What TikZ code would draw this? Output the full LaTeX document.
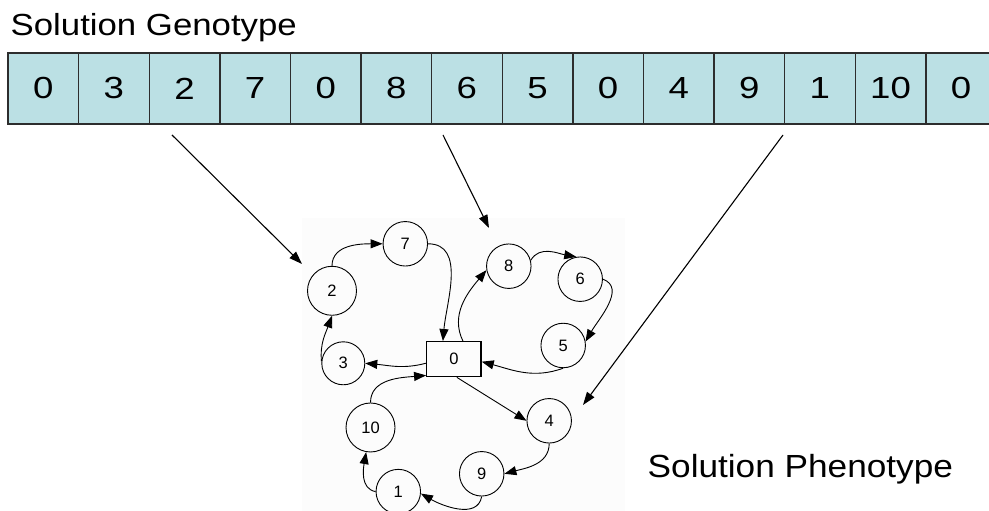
\documentclass[tikz,border=0pt]{standalone}
\usepackage{fontspec}
\setmainfont{Liberation Sans}
\usetikzlibrary{arrows.meta}
\definecolor{cellfill}{RGB}{187,224,228}
\definecolor{cellline}{RGB}{45,45,45}

\begin{document}
\begin{tikzpicture}[x=1pt,y=1pt,
  gene/.style={draw=cellline, line width=1.4pt, fill=cellfill,
    minimum width=70.6pt, minimum height=71pt, inner sep=0pt,
    font=\fontsize{30.5}{36}\selectfont\addfontfeatures{FakeStretch=1.2}},
  city/.style={circle, draw, line width=0.9pt, minimum size=44.5pt,
    inner sep=0pt, font=\fontsize{16.5}{19}\selectfont},
  depot/.style={rectangle, draw, line width=1.4pt, minimum width=54.3pt,
    minimum height=35pt, inner sep=0pt, font=\fontsize{16.5}{19}\selectfont},
  link/.style={line width=0.9pt, -{Triangle[length=12pt,width=9pt]}},
  mapto/.style={line width=1.1pt, -{Triangle[length=13pt,width=9pt]}},
  caption/.style={anchor=base west, inner sep=0pt}
]
\clip (0,0) rectangle (989,511);
\fill[white] (0,0) rectangle (989,511);
% light backdrop behind the route graph
\fill[black!1] (302,0) rectangle (625,293);

% genotype string
\node[caption, font=\fontsize{30.5}{36}\selectfont\addfontfeatures{FakeStretch=1.14}]
  (geno) at (10.5,475) {Solution Genotype};
\foreach \v [count=\i] in {0,3,2,7,0,8,6,5,0,4,9,1,10,0}
  \node[gene] (g\i) at ({8+70.6*(\i-0.5)},422.5) {\v};

% phenotype: routes leaving and returning to the depot
\node[depot] (n0) at (453.9,151.8) {0};
\node[city] (n7) at (405.3,267.2) {7};
\node[city, minimum size=49pt] (n2) at (332,220.2) {2};
\node[city, minimum size=43pt] (n3) at (343.3,147.7) {3};
\node[city] (n8) at (508.8,244.8) {8};
\node[city] (n6) at (580.2,231.8) {6};
\node[city] (n5) at (563.2,165.5) {5};
\node[city, minimum size=49pt] (n10) at (370.5,83.5) {10};
\node[city] (n4) at (549.2,90.2) {4};
\node[city] (n9) at (481.7,37.2) {9};
\node[city] (n1) at (398.3,19.4) {1};

\node[caption, font=\fontsize{32}{38}\selectfont\addfontfeatures{FakeStretch=1.1}]
  (pheno) at (647.5,33) {Solution Phenotype};

% route 0-3-2-7-0
\draw[link] ([yshift=-4pt]n0.west) to[out=195,in=-5] (n3.east);
\draw[link] (n3.175) to[out=95,in=-110] (n2.south);
\draw[link] (n2.north) to[out=90,in=180] (n7.west);
\draw[link] (n7.east) to[out=0,in=85] ([xshift=-11pt]n0.north);
% route 0-8-6-5-0
\draw[link] ([xshift=9pt]n0.north) to[out=116,in=230] (n8.190);
\draw[link] (n8.15) to[out=60,in=170] (n6.100);
\draw[link] (n6.east) to[out=-20,in=60] (n5.10);
\draw[link] (n5.south) to[out=200,in=-15] ([yshift=-2.5pt]n0.east);
% route 0-4-9-1-10-0
\draw[link] ([xshift=3pt]n0.south) -- (n4.west);
\draw[link] (n4.south) to[out=-90,in=15] (n9.east);
\draw[link] (n9.south) to[out=-100,in=-30] (n1.-5);
\draw[link] (n1.west) to[out=170,in=-100] (n10.-100);
\draw[link] (n10.north) to[out=90,in=185] ([yshift=2pt]n0.south west);

% decoding arrows from the string to the routes
\coordinate (s1) at (172,376); \coordinate (t1) at (302,247);
\coordinate (s2) at (443,376); \coordinate (t2) at (489,283);
\coordinate (s3) at (783,376); \coordinate (t3) at (583,106);
\draw[mapto] (s1) -- (t1);
\draw[mapto] (s2) -- (t2);
\draw[mapto] (s3) -- (t3);
\end{tikzpicture}
\end{document}
